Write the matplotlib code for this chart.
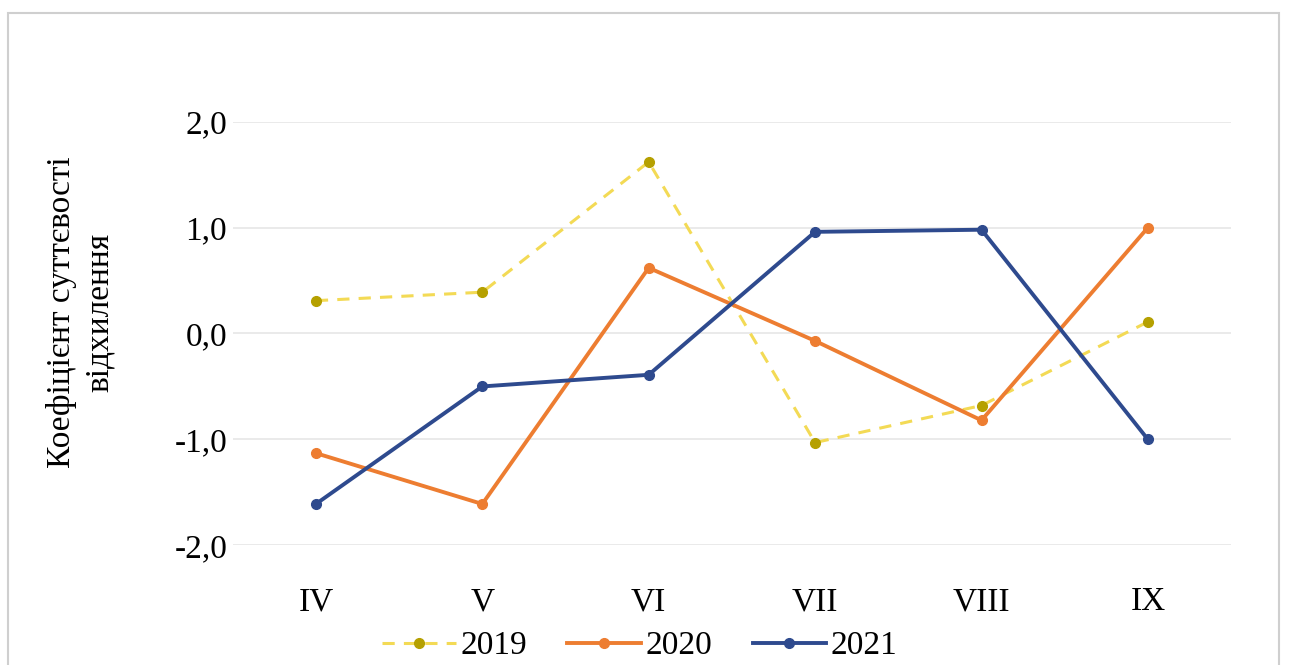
import matplotlib
matplotlib.use("Agg")
import matplotlib.pyplot as plt
from matplotlib.patches import Rectangle

months = ["IV", "V", "VI", "VII", "VIII", "IX"]
years = ["2019", "2020", "2021"]
vals_2019 = [0.31, 0.39, 1.62, -1.03, -0.68, 0.11]
vals_2020 = [-1.13, -1.61, 0.62, -0.07, -0.82, 1.00]
vals_2021 = [-1.61, -0.50, -0.39, 0.96, 0.98, -1.00]
yticks = [-2.0, -1.0, 0.0, 1.0, 2.0]

plt.rcParams["font.family"] = ["Liberation Serif", "DejaVu Serif"]

fig = plt.figure(figsize=(13, 6.65), dpi=100)
ax = fig.add_axes([0.179, 0.180, 0.768, 0.637])

x = range(len(months))
ax.plot(x, vals_2019, color="#F3DA55", ls=(0, (4, 3)), lw=2.2,
        marker="o", ms=7, mfc="#B5A000", mec="#B5A000", label=years[0])
ax.plot(x, vals_2020, color="#ED7D31", lw=2.8,
        marker="o", ms=7, label=years[1])
ax.plot(x, vals_2021, color="#2E4A8E", lw=2.8,
        marker="o", ms=7, label=years[2])

ax.set_xlim(-0.5, len(months) - 0.5)
ax.set_ylim(-2.0, 2.0)
ax.set_xticks(list(x))
ax.set_xticklabels(months, fontsize=24)
ax.set_yticks(yticks)
ax.set_yticklabels([f"{v:.1f}".replace(".", ",") for v in yticks], fontsize=24)
ax.tick_params(axis="y", length=0, pad=4)
ax.tick_params(axis="x", length=0, pad=30)
ax.grid(axis="y", color="#E6E6E6", lw=1.2)
ax.set_axisbelow(True)
for s in ax.spines.values():
    s.set_visible(False)

ax.set_ylabel("Коефіцієнт суттєвості\nвідхилення", fontsize=24, linespacing=1.3)
ax.yaxis.set_label_coords(-0.118, 0.55)

ax.legend(loc="center", bbox_to_anchor=(0.408, -0.238), ncol=3, frameon=False,
          fontsize=24, handlelength=2.2, handletextpad=0.15, columnspacing=1.2)

fig.patches.append(Rectangle((0.006, -0.1), 0.978, 1.08, transform=fig.transFigure,
                             fill=False, ec="#CFCFCF", lw=1.5))

fig.savefig("out.png", dpi=100)
